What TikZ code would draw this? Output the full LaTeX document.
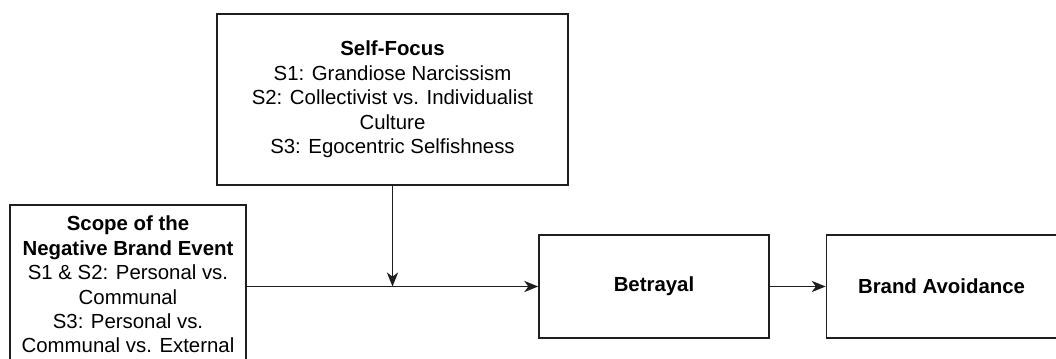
\documentclass[tikz,border=0pt]{standalone}
\usepackage{fontspec}
\setmainfont{Liberation Sans}
\usepackage{tikz}
\usetikzlibrary{arrows.meta, positioning, calc}
\definecolor{boxline}{RGB}{30, 30, 30}

\begin{document}
\begin{tikzpicture}[x=0.025cm, y=-0.025cm,
    factorbox/.style={draw=boxline, line width=1.1pt, align=center, inner sep=0pt,
        font=\fontsize{14.5}{17.4}\selectfont},
    flow/.style={draw=boxline, line width=1.1pt, -{Stealth[length=10pt, width=8pt, inset=3pt]}}]
    % Frame of the picture
    \useasboundingbox (0,0) rectangle (1056,359);
    \clip (0,0) rectangle (1056,359);

    % The Moderator (Top)
    \node[factorbox, minimum width=8.775cm, minimum height=4.275cm] (selffocus) at (392.5,99.5) {
        \textbf{Self-Focus} \\
        S1: Grandiose Narcissism \\
        S2: Collectivist vs. Individualist \\
        Culture \\
        S3: Egocentric Selfishness
    };

    % The Antecedent (Left)
    \node[factorbox, minimum width=5.9cm, minimum height=3.975cm] (scope) at (128,284.5) {
        \textbf{Scope of the} \\
        \textbf{Negative Brand Event} \\
        S1 \& S2: Personal vs. \\
        Communal \\
        S3: Personal vs. \\
        Communal vs. External
    };

    % The Mediator and the Outcome
    \node[factorbox, minimum width=5.75cm, minimum height=2.575cm] (betrayal) at (654,286.5) {\textbf{Betrayal}};
    \node[factorbox, minimum width=5.75cm, minimum height=2.575cm] (avoidance) at (941.5,286.5) {\textbf{Brand Avoidance}};

    % Paths
    \coordinate (meet) at (selffocus.south |- betrayal.west);
    \draw[flow] (scope.east |- betrayal.west) -- (betrayal.west);
    \draw[flow] (selffocus.south) -- (meet);
    \draw[flow] (betrayal.east) -- (avoidance.west);
\end{tikzpicture}
\end{document}
